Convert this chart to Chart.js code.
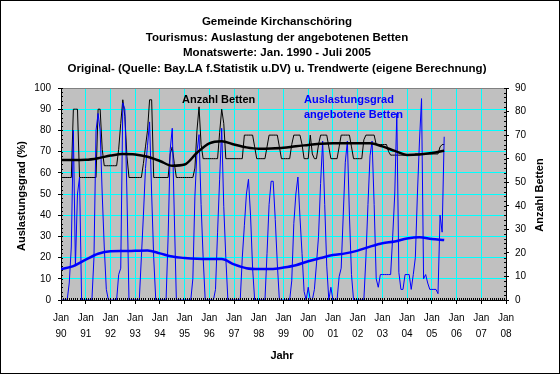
<!DOCTYPE html>
<html lang="de">
<head>
  <meta charset="UTF-8" />
  <title>Kirchanschöring - Auslastung der angebotenen Betten</title>
  <script src="https://cdn.jsdelivr.net/npm/chart.js@4"></script>
  <style>
    html, body { margin: 0; padding: 0; background: #fff; }
    #chart { display: block; }
  </style>
</head>
<body>
  <canvas id="chart" width="560" height="374"></canvas>

  <script>
    // Jahreslabels der x-Achse (Jan 1990 ... Jan 2008)
    const yearLabels = ["90", "91", "92", "93", "94", "95", "96", "97", "98", "99",
                        "00", "01", "02", "03", "04", "05", "06", "07", "08"];

    // Auslastungsgrad (%), Monatswerte Jan 1990 - Jul 2005
    const auslastung = [
      0, 0, 0, 0, 8, 25, 80, 16, 50, 58, 0, 0,        // 1990
      0, 0, 0, 0, 20, 80, 88, 80, 50, 25, 5, 0,       // 1991
      0, 0, 0, 0, 12, 15, 93, 90, 50, 0, 0, 0,        // 1992
      0, 0, 0, 20, 40, 62, 73, 84, 50, 20, 0, 0,      // 1993
      0, 0, 0, 0, 30, 71, 81, 40, 0, 0, 0, 0,         // 1994
      0, 0, 0, 0, 10, 49, 70, 78, 45, 20, 0, 0,       // 1995
      0, 0, 0, 5, 32, 57, 81, 44, 20, 0, 0, 0,        // 1996
      0, 0, 0, 0, 20, 35, 50, 57, 40, 15, 0, 0,       // 1997
      0, 0, 0, 0, 22, 45, 56, 56, 38, 17, 0, 0,       // 1998
      0, 0, 0, 0, 9, 36, 50, 58, 39, 22, 4, 0,        // 1999
      6, 0, 0, 5, 17, 30, 55, 75, 45, 16, 0, 6,       // 2000
      0, 0, 0, 11, 15, 40, 65, 75, 40, 12, 0, 0,      // 2001
      0, 0, 0, 0, 20, 45, 68, 75, 45, 10, 6, 12,      // 2002
      12, 12, 12, 12, 12, 30, 50, 88, 13, 5, 5, 12,   // 2003
      12, 12, 5, 12, 20, 50, 75, 95, 10, 12, 8, 5,    // 2004
      5, 5, 5, 3, 40, 32, 77                          // 2005
    ];

    // Anzahl Betten, Monatswerte Jan 1990 - Jul 2005
    const betten = [
      52, 52, 52, 52, 52, 52, 81, 81, 81, 52, 52, 52, // 1990
      52, 52, 52, 52, 52, 52, 81, 81, 64, 57, 57, 57, // 1991
      57, 57, 57, 57, 64, 75, 85, 78, 61, 52, 52, 52, // 1992
      52, 52, 52, 52, 58, 65, 72, 85, 85, 52, 52, 52, // 1993
      52, 52, 52, 52, 52, 62, 65, 58, 52, 52, 52, 52, // 1994
      52, 52, 52, 52, 52, 56, 72, 82, 66, 60, 60, 60, // 1995
      60, 60, 60, 60, 60, 71, 81, 75, 60, 60, 60, 60, // 1996
      60, 60, 60, 60, 60, 70, 70, 70, 70, 70, 65, 60, // 1997
      60, 60, 60, 60, 65, 70, 70, 70, 70, 70, 65, 60, // 1998
      60, 60, 60, 60, 66, 70, 70, 70, 70, 66, 60, 60, // 1999
      60, 70, 62, 60, 60, 66, 70, 70, 70, 70, 65, 60, // 2000
      60, 60, 60, 65, 70, 70, 70, 70, 70, 65, 60, 60, // 2001
      60, 60, 60, 68, 70, 70, 70, 70, 70, 66, 66, 66, // 2002
      66, 66, 66, 63, 61.5, 61.5, 61.5, 61.5, 61.5, 61.5, 61.5, 61.5, // 2003
      61.5, 61.5, 61.5, 61.5, 62, 62, 62, 62, 62, 62, 62, 62,         // 2004
      62, 62, 62, 62, 65, 66, 66                      // 2005
    ];

    // Trendwerte, halbjaehrlich (Jan / Jul), 1990 - Jul 2005
    const trendAuslastung = [
      14.6, 16.0, 19.0, 21.8, 23.0, 23.1, 23.2, 23.3, 22.0, 20.5, 19.8, 19.4,
      19.3, 19.3, 16.8, 15.0, 14.6, 14.6, 15.3, 16.4, 18.3, 19.8, 21.2, 22.0,
      23.3, 25.2, 26.8, 27.6, 29.0, 29.6, 28.8, 28.3
    ];
    const trendBetten = [
      59.4, 59.4, 59.5, 60.2, 61.3, 62.0, 61.8, 60.8, 59.0, 57.0, 57.5, 62.5,
      66.5, 67.4, 66.0, 64.8, 64.2, 64.3, 64.6, 65.3, 65.8, 66.3, 66.5, 66.5,
      66.5, 66.5, 65.2, 63.3, 61.6, 61.8, 62.4, 63.4
    ];

    const FONT = "'Liberation Sans', Arial, sans-serif";
    Chart.defaults.font.family = FONT;
    Chart.defaults.color = "#000";

    // Monatsindex als x-Wert (0 = Jan 1990)
    const toPoints = (values, step) => values.map((v, i) => ({ x: i * step, y: v }));

    // Hintergrund, Rahmen der Zeichenflaeche, Hilfsstriche
    const areaPlugin = {
      id: "area",
      beforeDraw(chart) {
        const { ctx, chartArea: a } = chart;
        ctx.save();
        ctx.fillStyle = "#fff";
        ctx.fillRect(0, 0, chart.width, chart.height);
        ctx.fillStyle = "#c0c0c0";
        ctx.fillRect(a.left, a.top, a.right - a.left, a.bottom - a.top);
        ctx.restore();
      },
      afterDraw(chart) {
        const { ctx, chartArea: a, scales } = chart;
        ctx.save();
        ctx.strokeStyle = "#808080";
        ctx.lineWidth = 1;
        ctx.beginPath();
        ctx.moveTo(a.left, a.top + 0.5);
        ctx.lineTo(a.right, a.top + 0.5);
        ctx.stroke();

        // kleine Teilstriche
        ctx.strokeStyle = "#000";
        ctx.beginPath();
        for (let v = 0; v <= 100; v += 2) {
          const y = Math.round(scales.y.getPixelForValue(v)) + 0.5;
          ctx.moveTo(a.left, y); ctx.lineTo(a.left + 2, y);
        }
        for (let v = 0; v <= 90; v += 2) {
          const y = Math.round(scales.y1.getPixelForValue(v)) + 0.5;
          ctx.moveTo(a.right - 2, y); ctx.lineTo(a.right, y);
        }
        for (let m = 0; m <= 216; m++) {
          const x = Math.round(scales.x.getPixelForValue(m)) + 0.5;
          ctx.moveTo(x, a.bottom); ctx.lineTo(x, a.bottom - 2);
        }
        ctx.stroke();

        // Rahmen um das ganze Bild
        ctx.strokeRect(0.5, 0.5, chart.width - 1, chart.height - 1);
        ctx.restore();
      }
    };

    // Titel, Achsentitel und Beschriftungen im Diagramm
    const textPlugin = {
      id: "texts",
      afterDraw(chart) {
        const ctx = chart.ctx;
        ctx.save();
        ctx.textBaseline = "middle";
        ctx.fillStyle = "#000";
        ctx.textAlign = "center";
        ctx.font = "bold 11.5px " + FONT;
        ctx.fillText("Gemeinde Kirchanschöring", 277, 22);
        ctx.fillText("Tourismus: Auslastung der angebotenen Betten", 277, 37.5);
        ctx.fillText("Monatswerte: Jan. 1990 - Juli 2005", 277, 53);
        ctx.fillText("Original- (Quelle: Bay.LA f.Statistik u.DV) u. Trendwerte (eigene Berechnung)", 277, 68.5);

        ctx.font = "bold 11px " + FONT;
        ctx.fillText("Jahr", 282, 356);

        ctx.save();
        ctx.translate(22, 196);
        ctx.rotate(-Math.PI / 2);
        ctx.fillText("Auslastungsgrad (%)", 0, 0);
        ctx.restore();

        ctx.save();
        ctx.translate(540, 195);
        ctx.rotate(-Math.PI / 2);
        ctx.fillText("Anzahl Betten", 0, 0);
        ctx.restore();

        ctx.textAlign = "left";
        ctx.fillText("Anzahl Betten", 182, 100);
        ctx.fillStyle = "#0000ff";
        ctx.fillText("Auslastungsgrad", 304, 100);
        ctx.fillText("angebotene Betten", 304, 115);
        ctx.restore();
      }
    };

    const tickFont = { size: 10, family: FONT };

    new Chart(document.getElementById("chart"), {
      type: "line",
      data: {
        datasets: [
          {
            label: "Trend Auslastungsgrad",
            data: toPoints(trendAuslastung, 6),
            yAxisID: "y",
            borderColor: "#0000ff",
            borderWidth: 2.5,
            pointRadius: 0,
            cubicInterpolationMode: "monotone"
          },
          {
            label: "Trend Anzahl Betten",
            data: toPoints(trendBetten, 6),
            yAxisID: "y1",
            borderColor: "#000",
            borderWidth: 2.5,
            pointRadius: 0,
            cubicInterpolationMode: "monotone"
          },
          {
            label: "Auslastungsgrad",
            data: toPoints(auslastung, 1),
            yAxisID: "y",
            borderColor: "#0000ff",
            borderWidth: 1,
            pointRadius: 0
          },
          {
            label: "Anzahl Betten",
            data: toPoints(betten, 1),
            yAxisID: "y1",
            borderColor: "#000",
            borderWidth: 1,
            pointRadius: 0
          }
        ]
      },
      options: {
        responsive: false,
        animation: false,
        devicePixelRatio: 1,
        layout: { padding: { top: 88, left: 0, right: 0, bottom: 0 } },
        plugins: {
          legend: { display: false },
          tooltip: { enabled: false },
          title: { display: false }
        },
        scales: {
          x: {
            type: "linear",
            min: 0,
            max: 216,
            afterFit: s => { s.height = 74; },
            ticks: {
              stepSize: 12,
              autoSkip: false,
              maxRotation: 0,
              padding: 6,
              font: { ...tickFont, lineHeight: 1.6 },
              callback: v => ["Jan", yearLabels[Math.round(v / 12)]]
            },
            grid: { color: "#00ffff", tickColor: "#000", tickLength: 4 },
            border: { color: "#000" }
          },
          y: {
            position: "left",
            min: 0,
            max: 100,
            afterFit: s => { s.width = 61; },
            ticks: { stepSize: 10, padding: 7, font: tickFont },
            grid: { color: "#00ffff", tickColor: "#000", tickLength: 3 },
            border: { color: "#000" }
          },
          y1: {
            position: "right",
            min: 0,
            max: 90,
            afterFit: s => { s.width = 54; },
            ticks: { stepSize: 10, padding: 6, font: tickFont },
            grid: { drawOnChartArea: false, tickColor: "#000", tickLength: 3 },
            border: { color: "#000" }
          }
        }
      },
      plugins: [areaPlugin, textPlugin]
    });
  </script>
</body>
</html>
